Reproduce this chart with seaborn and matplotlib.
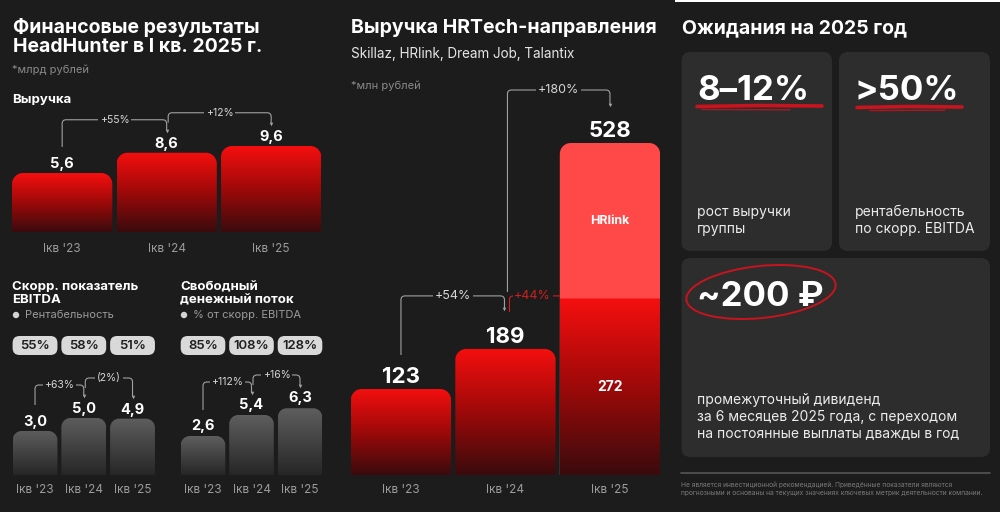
import numpy as np
import matplotlib
matplotlib.use("Agg")
import matplotlib.pyplot as plt
import seaborn as sns
from matplotlib.path import Path
from matplotlib.patches import PathPatch, FancyBboxPatch, Ellipse, Rectangle, Circle
from matplotlib.colors import LinearSegmentedColormap

# ---------------- data ----------------
quarters = ["Iкв '23", "Iкв '24", "Iкв '25"]
revenue = [5.6, 8.6, 9.6]
revenue_growth = ["+55%", "+12%"]
ebitda = [3.0, 5.0, 4.9]
ebitda_margin = ["55%", "58%", "51%"]
ebitda_growth = ["+63%", "(2%)"]
fcf = [2.6, 5.4, 6.3]
fcf_to_ebitda = ["85%", "108%", "128%"]
fcf_growth = ["+112%", "+16%"]
hrtech_total = [123, 189, 528]
hrtech_ex_hrlink = [123, 189, 272]
hrtech_growth = ["+54%", "+180%"]
hrtech_core_growth = "+44%"
outlook_values = ["8–12%", ">50%", "~200 ₽"]
outlook_texts = ["рост выручки\nгруппы",
                 "рентабельность\nпо скорр. EBITDA",
                 "промежуточный дивиденд\nза 6 месяцев 2025 года, с переходом\nна постоянные выплаты дважды в год"]
footer = ("Не является инвестиционной рекомендацией. Приведённые показатели являются\n"
          "прогнозными и основаны на текущих значениях ключевых метрик деятельности компании.")

# ---------------- style ----------------
W, H = 1000, 512
BG = "#1c1c1c"
CARD = "#2d2d2d"
GRAYTXT = "#9b9b9b"
LINEC = "#a0a0a0"
sns.set_theme(style="dark", rc={"axes.facecolor": "none", "figure.facecolor": BG,
                                "savefig.facecolor": BG, "axes.grid": False})
plt.rcParams["font.family"] = ["Inter", "DejaVu Sans"]

RED_CMAP = LinearSegmentedColormap.from_list(
    "red", [(0, "#3a0b0d"), (0.5, "#9e0909"), (1, "#f50f0f")])
GRAY_CMAP = LinearSegmentedColormap.from_list(
    "gray", [(0, "#262626"), (1, "#5e5e5e")])
HRLINK_C = "#ff4848"
RED_TXT = "#d11f1f"

fig = plt.figure(figsize=(W / 100, H / 100), dpi=100)


def overlay(z):
    a = fig.add_axes([0, 0, 1, 1], zorder=z)
    a.set_xlim(0, W)
    a.set_ylim(H, 0)
    a.axis("off")
    a.patch.set_alpha(0)
    a.set_autoscale_on(False)
    return a


bg = overlay(0)
fg = overlay(20)


def bar_axes(left, base, ppx, ppy, xlim, ylim):
    w = (xlim[1] - xlim[0]) * ppx
    h = (ylim[1] - ylim[0]) * ppy
    ax = fig.add_axes([left / W, (H - base) / H, w / W, h / H], zorder=10)
    ax.set_facecolor("none")
    return ax


def finish_axes(ax, xlim, ylim, pad, size=8.5):
    ax.set_xlim(xlim)
    ax.set_ylim(ylim)
    for s in ax.spines.values():
        s.set_visible(False)
    ax.set_yticks([])
    ax.set_xlabel("")
    ax.set_ylabel("")
    ax.tick_params(axis="x", length=0, pad=pad, labelsize=size, labelcolor=GRAYTXT)


def to_px(ax, x, y):
    X, Y = ax.transData.transform((x, y))
    return X, H - Y


def rounded_top_path(x0, x1, y0, y1, rx, ry):
    k = 0.5523
    verts = [(x0, y0), (x0, y1 - ry), (x0, y1 - ry + k * ry), (x0 + rx - k * rx, y1), (x0 + rx, y1),
             (x1 - rx, y1), (x1 - rx + k * rx, y1), (x1, y1 - ry + k * ry), (x1, y1 - ry),
             (x1, y0), (x0, y0)]
    codes = [Path.MOVETO, Path.LINETO, Path.CURVE4, Path.CURVE4, Path.CURVE4, Path.LINETO,
             Path.CURVE4, Path.CURVE4, Path.CURVE4, Path.LINETO, Path.CLOSEPOLY]
    return Path(verts, codes)


def grad_bar(ax, x0, x1, y0, y1, fill, r_px, ppx, ppy, z=2):
    path = rounded_top_path(x0, x1, y0, y1, r_px / ppx, r_px / ppy)
    patch = PathPatch(path, fc="none", ec="none", transform=ax.transData, zorder=z)
    ax.add_patch(patch)
    if isinstance(fill, str):
        patch.set_facecolor(fill)
        return
    im = ax.imshow(np.linspace(0, 1, 256).reshape(-1, 1), extent=[x0, x1, y0, y1],
                   origin="lower", aspect="auto", cmap=fill, interpolation="bilinear", zorder=z)
    im.set_clip_path(patch)


def bracket(xs, ys, yl, xe, ye, label, fs=7.5, r=4, color=LINEC, lw=0.8, tcolor="#d6d6d6"):
    sg = 1 if xe > xs else -1
    verts = [(xs, ys), (xs, yl + r), (xs, yl), (xs + sg * r, yl), (xe - sg * r, yl),
             (xe, yl), (xe, yl + r), (xe, ye)]
    codes = [Path.MOVETO, Path.LINETO, Path.CURVE3, Path.CURVE3, Path.LINETO,
             Path.CURVE3, Path.CURVE3, Path.LINETO]
    fg.add_patch(PathPatch(Path(verts, codes), fc="none", ec=color, lw=lw, zorder=5))
    fg.plot([xe], [ye], marker="v", ms=2.6, color=color, zorder=6, mec="none")
    fg.text((xs + xe) / 2, yl, label, ha="center", va="center", fontsize=fs, color=tcolor,
            bbox=dict(fc=BG, ec="none", pad=1.3), zorder=7)


def fmt(v):
    return f"{v:.1f}".replace(".", ",")


def small_chart(values, left, base, ppx, ppy, ylim0, ylim1, cmap, r, width, xlim,
                growth, pills, lab_off, pad):
    ax = bar_axes(left, base, ppx, ppy, xlim, (ylim0, ylim1))
    sns.barplot(x=quarters, y=values, ax=ax, width=width, color="#555555")
    geo = []
    for p in list(ax.patches):
        x0, w, top = p.get_x(), p.get_width(), p.get_height()
        p.set_visible(False)
        grad_bar(ax, x0, x0 + w, ylim0, top, cmap, r, ppx, ppy)
        geo.append((x0 + w / 2, w, top))
    finish_axes(ax, xlim, (ylim0, ylim1), pad)
    cs, ts = [], []
    for (xc, w, top), v in zip(geo, values):
        X, Y = to_px(ax, xc, top)
        cs.append(X)
        ts.append(Y)
        fg.text(X, Y - lab_off, fmt(v), ha="center", va="baseline", fontsize=10.5,
                fontweight="bold", color="white", zorder=8)
    yl1 = ts[1] - 33
    bracket(cs[0], ts[0] - 26, yl1, cs[1], ts[1] - 22, growth[0])
    yl2 = min(ts[2] - 33, yl1 - 7)
    bracket(cs[1] + 1.5, yl1 + 3, yl2, cs[2], ts[2] - 22, growth[1])
    if pills is not None:
        for (xc, w, top), txt in zip(geo, pills):
            X, _ = to_px(ax, xc, top)
            wp = w * ppx
            fg.add_patch(FancyBboxPatch((X - wp / 2, 336), wp, 19,
                                        boxstyle="round,pad=0,rounding_size=7",
                                        fc="#d9d9d9", ec="none", zorder=4))
            fg.text(X, 346, txt, ha="center", va="center", fontsize=9.5,
                    fontweight="semibold", color="#1e1e1e", zorder=5)
    return ax


# ---------------- left panel ----------------
fg.text(13, 33, "Финансовые результаты", fontsize=14, fontweight="bold", color="white", va="baseline")
fg.text(13, 51.5, "HeadHunter в I кв. 2025 г.", fontsize=14, fontweight="bold", color="white", va="baseline")
fg.text(12, 70, "*млрд рублей", fontsize=8, color="#8a8a8a", va="center")
fg.text(12, 100, "Выручка", fontsize=9.5, fontweight="bold", color="white", va="center")

small_chart(revenue, 12, 232, 104.5, 6.75, -3.14, 12.0, RED_CMAP, 11, 0.96, (-0.48, 2.48),
            revenue_growth, None, 5, 8)

for x0, t1, t2, sub in [(12, "Скорр. показатель", "EBITDA", "Рентабельность"),
                        (180, "Свободный", "денежный поток", "% от скорр. EBITDA")]:
    fg.text(x0, 290.5, t1, fontsize=9.5, fontweight="bold", color="white", va="baseline")
    fg.text(x0, 303, t2, fontsize=9.5, fontweight="bold", color="white", va="baseline")
    fg.add_patch(Circle((x0 + 4, 315), 3.2, fc="#d4d4d4", ec="none"))
    fg.text(x0 + 13, 315, sub, fontsize=8, color=GRAYTXT, va="center")

small_chart(ebitda, 12.6, 475, 48.75, 6.5, -3.77, 9.5, GRAY_CMAP, 9, 0.92, (-0.46, 2.46),
            ebitda_growth, ebitda_margin, 5, 6.5)
small_chart(fcf, 180.7, 475, 48.5, 7.5, -2.6, 9.0, GRAY_CMAP, 9, 0.92, (-0.46, 2.46),
            fcf_growth, fcf_to_ebitda, 6, 6.5)

# ---------------- middle panel ----------------
fg.text(351, 33.3, "Выручка HRTech-направления", fontsize=14, fontweight="bold", color="white", va="baseline")
fg.text(351, 54, "Skillaz, HRlink, Dream Job, Talantix", fontsize=9.7, color="#e6e6e6", va="center")
fg.text(351, 86, "*млн рублей", fontsize=8, color="#8a8a8a", va="center")

m_xlim = (-0.48, 2.48)
m_ylim = (-18.6, 600)
m_ppx, m_ppy = 104.5, 0.6074
axm = bar_axes(350.8, 475, m_ppx, m_ppy, m_xlim, m_ylim)
sns.barplot(x=quarters, y=hrtech_total, ax=axm, width=0.96, color=HRLINK_C)
n_tot = len(axm.patches)
sns.barplot(x=quarters, y=hrtech_ex_hrlink, ax=axm, width=0.96, color="#e00000")
pats = list(axm.patches)
tot_geo, core_geo = [], []
for p in pats[:n_tot]:
    tot_geo.append((p.get_x(), p.get_width(), p.get_height()))
    p.set_visible(False)
for p in pats[n_tot:]:
    core_geo.append((p.get_x(), p.get_width(), p.get_height()))
    p.set_visible(False)
for (x0, w, tot), (_, _, core) in zip(tot_geo, core_geo):
    if tot > core:
        grad_bar(axm, x0, x0 + w, m_ylim[0], tot, HRLINK_C, 11, m_ppx, m_ppy, z=2)
        grad_bar(axm, x0, x0 + w, m_ylim[0], core, RED_CMAP, 0, m_ppx, m_ppy, z=3)
    else:
        grad_bar(axm, x0, x0 + w, m_ylim[0], core, RED_CMAP, 11, m_ppx, m_ppy, z=3)
finish_axes(axm, m_xlim, m_ylim, 6.5)

mc, mt, ml = [], [], []
for (x0, w, tot), (_, _, core), v, vc in zip(tot_geo, core_geo, hrtech_total, hrtech_ex_hrlink):
    X, Y = to_px(axm, x0 + w / 2, tot)
    XL, _ = to_px(axm, x0, tot)
    mc.append(X)
    mt.append(Y)
    ml.append(XL)
    fg.text(X, Y - 6, f"{v}", ha="center", va="baseline", fontsize=16, fontweight="bold",
            color="white", zorder=8)
    if tot > core:
        _, Yc = to_px(axm, x0, core)
        _, Yb = to_px(axm, x0, m_ylim[0])
        fg.text(X, (Y + Yc) / 2, "HRlink", ha="center", va="center", fontsize=9,
                fontweight="bold", color="white", zorder=8)
        fg.text(X, (Yc + Yb) / 2, f"{vc}", ha="center", va="center", fontsize=10,
                fontweight="bold", color="white", zorder=8)

yl54 = mt[1] - 53
bracket(mc[0], mt[0] - 34, yl54, mc[1] - 1, mt[1] - 40, hrtech_growth[0], fs=9)
bracket(mc[1] + 2, yl54 - 4, mt[2] - 53, mc[2], mt[2] - 38, hrtech_growth[1], fs=9)
# red +44% bracket towards the non-HRlink part
xs44 = mc[1] + 4
r = 4
verts = [(xs44, mt[1] - 37), (xs44, yl54 + r), (xs44, yl54), (xs44 + r, yl54), (ml[2], yl54)]
codes = [Path.MOVETO, Path.LINETO, Path.CURVE3, Path.CURVE3, Path.LINETO]
fg.add_patch(PathPatch(Path(verts, codes), fc="none", ec=RED_TXT, lw=0.8, zorder=5))
fg.text((xs44 + ml[2]) / 2 - 2, yl54, hrtech_core_growth, ha="center", va="center", fontsize=9,
        color=RED_TXT, bbox=dict(fc=BG, ec="none", pad=1.3), zorder=7)

# ---------------- right panel ----------------
bg.add_patch(Rectangle((675, 0), 325, 2, fc="white", ec="none"))
fg.text(681.5, 33.5, "Ожидания на 2025 год", fontsize=14, fontweight="bold", color="white", va="baseline")
cards = [(681.5, 52, 150.5, 199), (839, 52, 151, 199), (681.5, 258, 308.5, 199)]
for (x, y, w, h) in cards:
    bg.add_patch(FancyBboxPatch((x, y), w, h, boxstyle="round,pad=0,rounding_size=9",
                                fc=CARD, ec="none", zorder=1))

val_pos = [(697, 100), (855, 100), (697, 306)]
for (x, y), v in zip(val_pos, outlook_values):
    fg.text(x, y, v, fontsize=25, fontweight="bold", color="white", va="baseline", zorder=8)
# red hand-drawn underlines / circle
UL = "#c8141e"
fg.plot([697, 760, 822], [106.5, 105.5, 106], color=UL, lw=2.6, solid_capstyle="round", zorder=7)
fg.plot([702, 790], [109.5, 109.8], color=UL, lw=1.0, alpha=0.8, zorder=7)
fg.plot([857, 910, 962], [107.5, 106.5, 107], color=UL, lw=2.6, solid_capstyle="round", zorder=7)
fg.plot([870, 945], [110.5, 110.2], color=UL, lw=1.0, alpha=0.8, zorder=7)
fg.add_patch(Ellipse((761, 292), 150, 52, angle=-6, fc="none", ec=UL, lw=1.4, zorder=7))

txt_pos = [(697, 205), (855, 205), (697, 393)]
for (x, y), t in zip(txt_pos, outlook_texts):
    fg.text(x, y, t, fontsize=10, color="#ececec", va="top", ha="left", linespacing=1.25,
            zorder=8)

fg.plot([681, 990], [473.3, 473.3], color="#555555", lw=1.2, zorder=5)
fg.text(681, 481, footer, fontsize=4.8, color="#7a7a7a", va="top", linespacing=1.35)

fig.savefig("out.png", dpi=100, facecolor=BG)
